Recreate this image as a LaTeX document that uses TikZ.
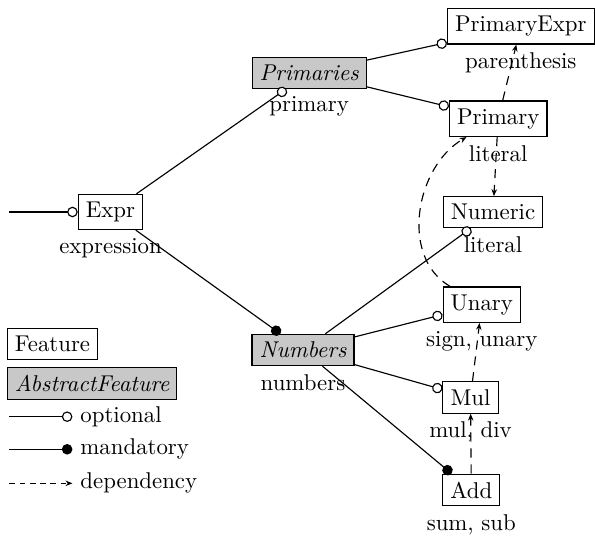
\documentclass[tikz,border=0pt]{standalone}
\usetikzlibrary{arrows.meta}
\definecolor{absgray}{RGB}{200,200,200}
\begin{document}
\begin{tikzpicture}[x=0.438pt,y=-0.438pt,
  feat/.style={draw, line width=0.5pt, fill=white, inner sep=3.33pt},
  abst/.style={feat, fill=absgray, font=\itshape},
  every label/.style={font=\normalfont, fill=none, draw=none, inner sep=3.33pt},
  conn/.style={line width=0.5pt},
  opt/.style={conn, -{Circle[open,length=4.6pt,fill=white]}},
  mand/.style={conn, -{Circle[length=4.6pt]}},
  dep/.style={conn, dash pattern=on 4pt off 3pt, -{Stealth[length=3pt,width=2.4pt]}},
  legdep/.style={conn, dash pattern=on 2.5pt off 2pt, -{Stealth[length=3pt,width=2.4pt]}},
]
\useasboundingbox (0,0) rectangle (595,536);

% feature nodes
\node[feat, label={below:parenthesis}] (pexpr) at (520.8,26.3) {PrimaryExpr};
\node[abst, label={below:primary}] (prims) at (309.2,72.8) {Primaries};
\node[feat, label={below:literal}] (prim) at (498.2,118.8) {Primary};
\node[feat, label={below:expression}] (expr) at (110.5,212) {Expr};
\node[feat, label={below:literal}] (num) at (493,212.2) {Numeric};
\node[feat, label={below:{sign, unary}}] (unary) at (481.8,304.7) {Unary};
\node[abst, label={below:numbers}] (nums) at (303,350) {Numbers};
\node[feat, label={below:{mul, div}}] (mul) at (470.5,397.5) {Mul};
\node[feat, label={below:{sum, sub}}] (add) at (471.3,490) {Add};

% root connector
\coordinate (root) at (9,212);
\draw[opt] (root) -- (expr);

% tree connectors
\draw[opt] (expr) -- (prims);
\draw[mand] (expr) -- (nums);
\draw[opt] (prims) -- (pexpr);
\draw[opt] (prims) -- (prim);
\draw[opt] (nums) -- (num);
\draw[opt] (nums) -- (unary);
\draw[opt] (nums) -- (mul);
\draw[mand] (nums) -- (add);

% dependencies
\draw[dep] (prim) -- (pexpr);
\draw[dep] (prim) -- (num);
\draw[dep] (unary) to[out=150,in=210] (prim);
\draw[dep] (mul) -- (unary);
\draw[dep] (add) -- (mul);

% legend
\node[feat, anchor=west] (lfeat) at (6.7,344.3) {Feature};
\node[abst, anchor=west] (labst) at (6.7,383.8) {AbstractFeature};
\node[anchor=west] (lopt) at (72.4,416.7) {optional};
\node[anchor=west] (lmand) at (72.4,449.3) {mandatory};
\node[anchor=west] (ldep) at (72.4,483.3) {dependency};
\coordinate (lo) at (9.3,416.7);
\coordinate (lm) at (9.3,449.3);
\coordinate (ld) at (9.3,483.3);
\draw[opt] (lo) -- (lopt.west);
\draw[mand] (lm) -- (lmand.west);
\draw[legdep] (ld) -- (ldep.west);
\end{tikzpicture}
\end{document}
